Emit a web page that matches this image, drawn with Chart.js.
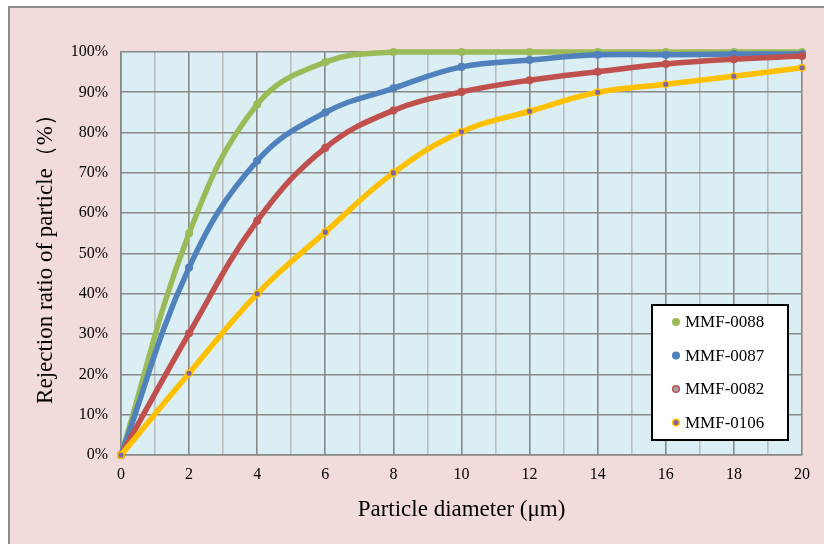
<!DOCTYPE html>
<html>
<head>
<meta charset="utf-8">
<script src="https://cdn.jsdelivr.net/npm/chart.js@4.4.1/dist/chart.umd.min.js"></script>
<style>
  html, body { margin: 0; padding: 0; background: #ffffff; }
  #frame {
    position: absolute; left: 8px; top: 6px;
    width: 814px; height: 536px;
    border-left: 2px solid #8c8c8c; border-top: 2px solid #8c8c8c;
    background: #F2DCDB;
  }
  #c { display: block; }
</style>
</head>
<body>
<div id="frame"><canvas id="c" width="814" height="536"></canvas></div>
<script>
// ---- data ----
const diameters = [0, 2, 4, 6, 8, 10, 12, 14, 16, 18, 20];
const seriesNames = ['MMF-0088', 'MMF-0087', 'MMF-0082', 'MMF-0106'];
const mmf0088 = [0, 55, 87, 97.5, 100, 100, 100, 100, 100, 100, 100];
const mmf0087 = [0, 46.5, 73, 85, 91, 96.3, 98, 99.3, 99.3, 99.5, 99.5];
const mmf0082 = [0, 30.2, 58.1, 76.2, 85.5, 90.1, 93, 95.1, 97, 98.2, 99];
const mmf0106 = [0, 20.3, 40, 55.3, 70, 80.2, 85.3, 90, 92, 94, 96.1];
const xTickLabels = ['0', '2', '4', '6', '8', '10', '12', '14', '16', '18', '20'];
const yTickLabels = ['0%', '10%', '20%', '30%', '40%', '50%', '60%', '70%', '80%', '90%', '100%'];

const toPts = arr => arr.map((v, i) => ({ x: diameters[i], y: v }));

const styles = [
  { line: '#9BBB59', fill: '#9BBB59', legendFill: '#9BBB59' },
  { line: '#4F81BD', fill: '#4F81BD', legendFill: '#4F81BD' },
  { line: '#C0504D', fill: '#C0504D', legendFill: '#A5A5A5' },
  { line: '#FFC000', fill: '#8064A2', legendFill: '#8064A2' }
];
const allSeries = [mmf0088, mmf0087, mmf0082, mmf0106];

const datasets = allSeries.map((arr, i) => ({
  label: seriesNames[i],
  data: toPts(arr),
  borderColor: styles[i].line,
  borderWidth: 5.5,
  pointRadius: 3.3,
  pointBackgroundColor: styles[i].fill,
  pointBorderColor: styles[i].line,
  pointBorderWidth: 1.5,
  tension: 0.4,
  fill: false,
  clip: false,
  order: 4 - i
}));

const SERIF = '"Liberation Serif", "Times New Roman", serif';

const plotBg = {
  id: 'plotBg',
  beforeDraw(chart) {
    const { ctx, chartArea: a } = chart;
    ctx.save();
    ctx.fillStyle = '#DBEEF3';
    ctx.fillRect(a.left, a.top, a.right - a.left, a.bottom - a.top);
    ctx.restore();
  }
};

const boxLegend = {
  id: 'boxLegend',
  afterDraw(chart) {
    const ctx = chart.ctx;
    const x0 = 642, y0 = 297, w = 136, h = 135;
    ctx.save();
    ctx.fillStyle = '#ffffff';
    ctx.fillRect(x0, y0, w, h);
    ctx.strokeStyle = '#000000';
    ctx.lineWidth = 2;
    ctx.strokeRect(x0, y0, w, h);
    ctx.font = '17px ' + SERIF;
    ctx.textBaseline = 'middle';
    ctx.textAlign = 'left';
    chart.data.datasets.forEach((ds, i) => {
      const cy = y0 + 17 + i * 33.5;
      ctx.beginPath();
      ctx.arc(x0 + 24, cy, 3.3, 0, Math.PI * 2);
      ctx.fillStyle = styles[i].legendFill;
      ctx.fill();
      ctx.lineWidth = 1.5;
      ctx.strokeStyle = ds.pointBorderColor;
      ctx.stroke();
      ctx.fillStyle = '#000000';
      ctx.fillText(ds.label, x0 + 33, cy + 1);
    });
    ctx.restore();
  }
};

new Chart(document.getElementById('c'), {
  type: 'line',
  data: { datasets },
  plugins: [plotBg, boxLegend],
  options: {
    responsive: false,
    animation: false,
    layout: { padding: { left: 0, top: 44, right: 22, bottom: 0 } },
    plugins: { legend: { display: false }, tooltip: { enabled: false } },
    scales: {
      x: {
        type: 'linear', min: 0, max: 20,
        afterFit(s) { s.height = 89; },
        ticks: {
          stepSize: 1, autoSkip: false, maxRotation: 0, padding: 10,
          color: '#000000',
          font: { family: SERIF, size: 16 },
          callback: (v) => (v % 2 === 0 ? xTickLabels[v / 2] : '')
        },
        grid: {
          drawTicks: false,
          color: (c) => (c.tick && c.tick.value % 2 === 0 ? '#888888' : '#BDBDBD'),
          lineWidth: 1.6
        },
        border: { display: true, color: '#888888', width: 1.6 },
        title: {
          display: true, text: 'Particle diameter (μm)', color: '#000000',
          font: { family: SERIF, size: 23 },
          padding: { top: 0, bottom: 20 }
        }
      },
      y: {
        type: 'linear', min: 0, max: 100,
        afterFit(s) { s.width = 111; },
        ticks: {
          stepSize: 10, padding: 13, color: '#000000',
          font: { family: SERIF, size: 16 },
          callback: (v) => yTickLabels[Math.round(v / 10)]
        },
        grid: { drawTicks: false, color: '#888888', lineWidth: 1.6 },
        border: { display: true, color: '#888888', width: 1.6 },
        title: {
          display: true, text: 'Rejection ratio of particle（%）', color: '#000000',
          font: { family: SERIF, size: 23 },
          padding: { top: 22, bottom: 0 }
        }
      }
    }
  }
});
</script>
</body>
</html>
